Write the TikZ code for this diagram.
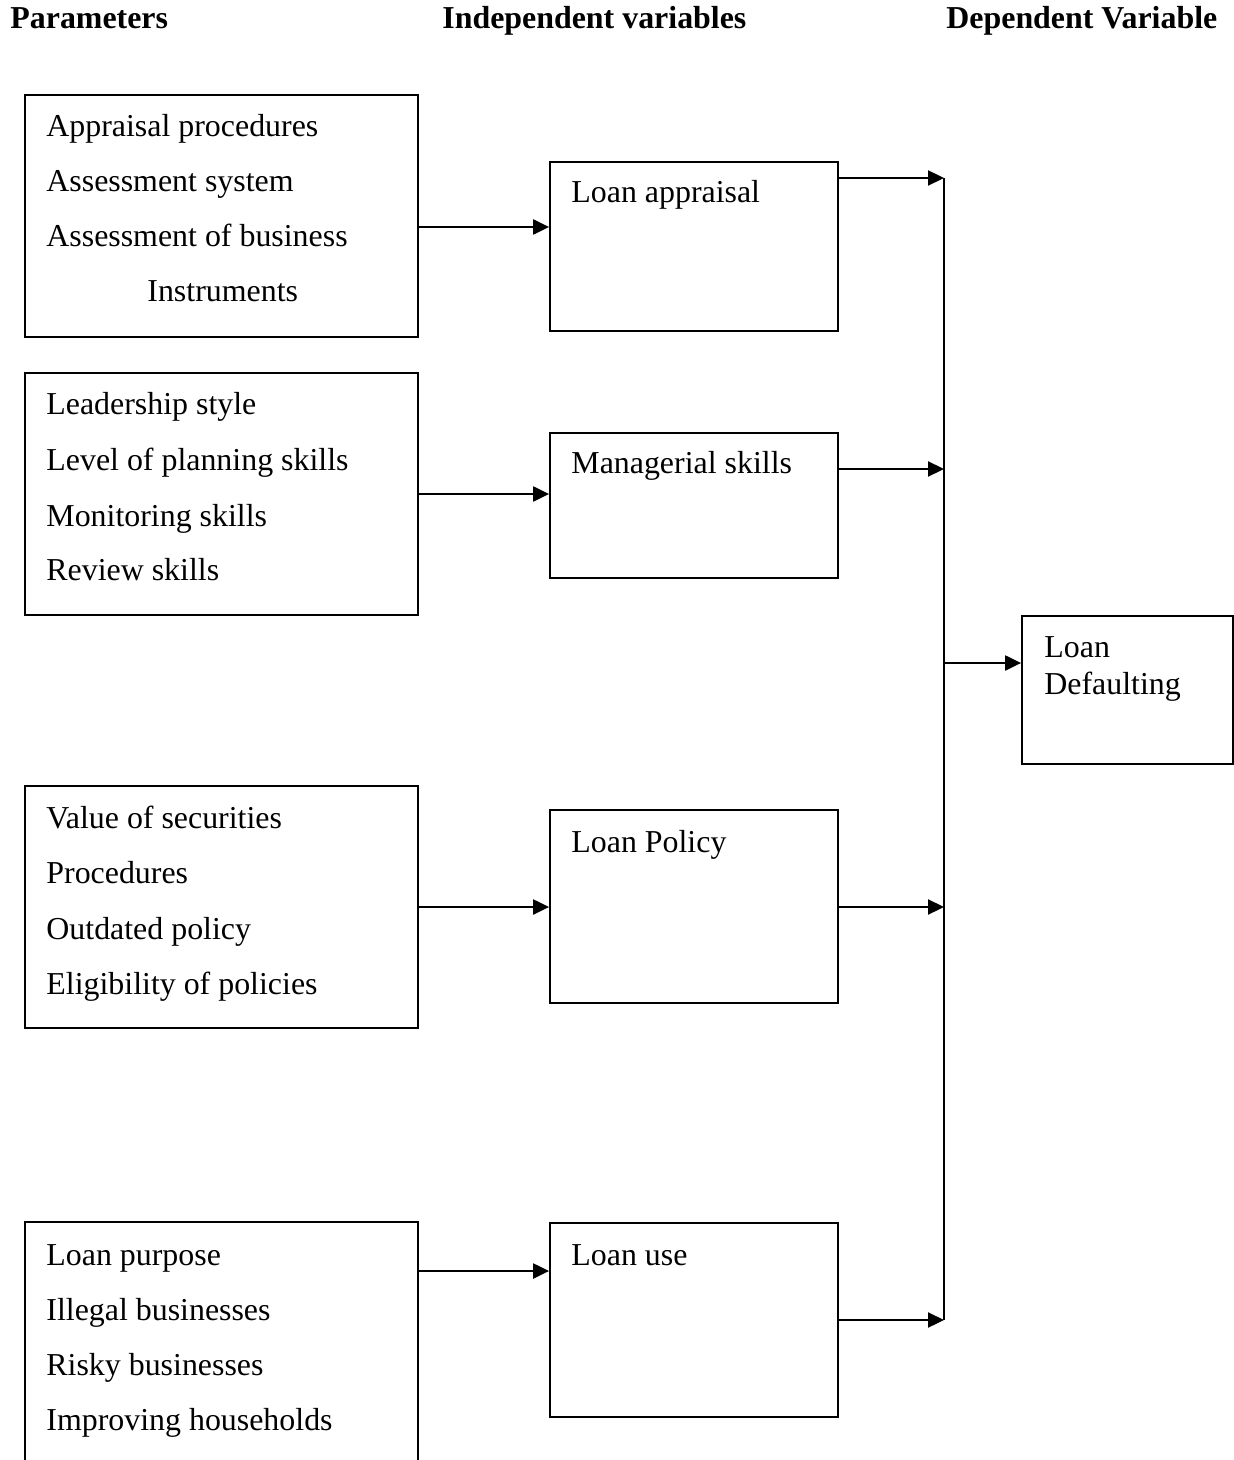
\documentclass[tikz,border=0pt]{standalone}
\usepackage{fontspec}
\setmainfont{Liberation Serif}
\usetikzlibrary{arrows.meta}
\begin{document}
\begin{tikzpicture}[x=0.5pt,y=-0.5pt,
  box/.style={draw,line width=0.9pt,rectangle,inner sep=0pt},
  txt/.style={anchor=base west,inner sep=0pt,font=\fontsize{15.95}{18}\selectfont},
  hdr/.style={anchor=base west,inner sep=0pt,font=\fontsize{15.95}{18}\selectfont\bfseries},
  arr/.style={line width=1.1pt,-{Triangle[length=8pt,width=7.5pt]}},
  bus/.style={line width=1.1pt}]
\useasboundingbox (0,0) rectangle (1234,1460);
\fill[white] (0,0) rectangle (1234,1460);
% headers
\node[hdr] (h1) at (10,29) {Parameters};
\node[hdr] (h2) at (442,29) {Independent variables};
\node[hdr] (h3) at (946,29) {Dependent Variable};
% parameter boxes
\node[box,minimum width=196.5pt,minimum height=121pt] (p1) at (221.5,216) {};
\node[box,minimum width=196.5pt,minimum height=121pt] (p2) at (221.5,494) {};
\node[box,minimum width=196.5pt,minimum height=121pt] (p3) at (221.5,907) {};
\begin{scope}
\clip (0,0) rectangle (1234,1460);
\node[box,minimum width=196.5pt,minimum height=150pt] (p4) at (221.5,1372) {};
\end{scope}
% independent boxes
\node[box,minimum width=144pt,minimum height=84.5pt] (i1) at (694,246.5) {};
\node[box,minimum width=144pt,minimum height=72.5pt] (i2) at (694,505.5) {};
\node[box,minimum width=144pt,minimum height=96.5pt] (i3) at (694,906.5) {};
\node[box,minimum width=144pt,minimum height=97pt] (i4) at (694,1320) {};
% dependent box
\node[box,minimum width=105.5pt,minimum height=74pt] (d) at (1127.5,690) {};
% texts
\node[txt] (t11) at (46,137) {Appraisal procedures};
\node[txt] (t12) at (46,192) {Assessment system};
\node[txt] (t13) at (46,247) {Assessment of business};
\node[txt] (t14) at (147,302) {Instruments};
\node[txt] (t21) at (46,415) {Leadership style};
\node[txt] (t22) at (46,470) {Level of planning skills};
\node[txt] (t23) at (46,526) {Monitoring skills};
\node[txt] (t24) at (46,580) {Review skills};
\node[txt] (t31) at (46,828) {Value of securities};
\node[txt] (t32) at (46,883) {Procedures};
\node[txt] (t33) at (46,939) {Outdated policy};
\node[txt] (t34) at (46,994) {Eligibility of policies};
\node[txt] (t41) at (46,1265) {Loan purpose};
\node[txt] (t42) at (46,1320) {Illegal businesses};
\node[txt] (t43) at (46,1375) {Risky businesses};
\node[txt] (t44) at (46,1430) {Improving households};
\node[txt] (u1) at (571,203) {Loan appraisal};
\node[txt] (u2) at (571,473) {Managerial skills};
\node[txt] (u3) at (571,852) {Loan Policy};
\node[txt] (u4) at (571,1265) {Loan use};
\node[txt] (v1) at (1044,657) {Loan};
\node[txt] (v2) at (1044,694) {Defaulting};
% bus coordinates
\coordinate (btop) at (944,178);
\coordinate (b2) at (944,469);
\coordinate (bmid) at (944,663);
\coordinate (b3) at (944,907);
\coordinate (bbot) at (944,1320);
\coordinate (r1) at (0,227);
\coordinate (r2) at (0,494);
\coordinate (r3) at (0,907);
\coordinate (r4) at (0,1271);
% connectors
\draw[arr] (p1.east |- r1) -- (i1.west |- r1);
\draw[arr] (p2.east |- r2) -- (i2.west |- r2);
\draw[arr] (p3.east |- r3) -- (i3.west |- r3);
\draw[arr] (p4.east |- r4) -- (i4.west |- r4);
\draw[bus] (btop) -- (bbot);
\draw[arr] (i1.east |- btop) -- (btop);
\draw[arr] (i2.east |- b2) -- (b2);
\draw[arr] (i3.east |- b3) -- (b3);
\draw[arr] (i4.east |- bbot) -- (bbot);
\draw[arr] (bmid) -- (d.west |- bmid);
\end{tikzpicture}
\end{document}
